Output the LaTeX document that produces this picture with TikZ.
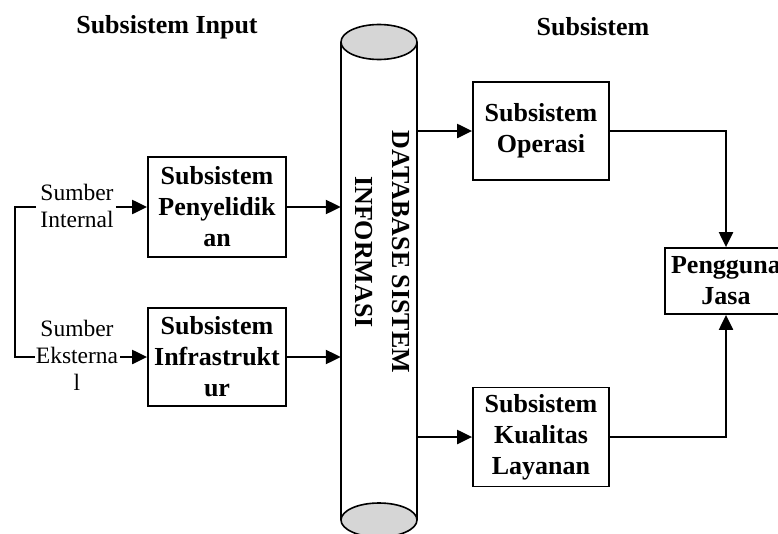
\documentclass[tikz,border=0pt]{standalone}
\usepackage{fontspec}
\setmainfont{Liberation Serif}
\usetikzlibrary{arrows.meta}
\tikzset{
  pic/.style={x=1pt,y=-1pt},
  box/.style={draw,line width=1.8pt,align=center,font=\fontsize{26}{31}\selectfont\bfseries,inner sep=0pt},
  src/.style={align=center,font=\fontsize{23.5}{27}\selectfont,inner sep=2pt},
  title/.style={font=\fontsize{26}{31}\selectfont\bfseries},
  link/.style={line width=2.2pt},
  arr/.style={line width=2.2pt,-{Triangle[length=15pt,width=14pt]}},
}
\begin{document}
\begin{tikzpicture}[pic]
\useasboundingbox (0,0) rectangle (778,533);
\begin{scope}
\clip (0,0) rectangle (778,533);

% titles
\node[title] (tin) at (167,27) {Subsistem Input};
\node[title] (tout) at (593,27) {Subsistem};

% database cylinder
\fill[white] (341,42) rectangle (417,520);
\draw[line width=1.6pt] (341,42) -- (341,520);
\draw[line width=1.6pt] (417,42) -- (417,520);
\draw[line width=1.6pt,fill=gray!32] (379,42) ellipse [x radius=38,y radius=17.5];
\draw[line width=1.6pt,fill=gray!32] (379,520) ellipse [x radius=38,y radius=17];
\node[minimum width=76pt,minimum height=478pt,inner sep=0pt] (db) at (379,281) {};
\node[rotate=-90,align=center,font=\fontsize{26}{37}\selectfont\bfseries] (dbt) at (382,252)
  {DATABASE SISTEM\\INFORMASI};

% input subsystems
\node[box,minimum width=138pt,minimum height=100pt] (pen) at (217,207) {Subsistem\\Penyelidik\\an};
\node[box,minimum width=138pt,minimum height=98pt] (inf) at (217,357) {Subsistem\\Infrastrukt\\ur};

% sources
\node[src] (si) at (77,206) {Sumber\\Internal};
\node[src] (se) at (77,355) {Sumber\\Eksterna\\l};
\coordinate (bi) at (36,207);
\coordinate (be) at (35,357);
\draw[link] (bi) -- ++(-21,0) |- (be);
\draw[arr] (si.east |- pen.west) -- (pen.west);
\draw[arr] (se.east |- inf.west) -- (inf.west);

\draw[arr] (pen.east) -- (pen.east -| db.west);
\draw[arr] (inf.east) -- (inf.east -| db.west);

% output subsystems
\node[box,minimum width=136pt,minimum height=98pt] (op) at (541,131) {Subsistem\\Operasi};
\node[box,minimum width=136pt,minimum height=99pt] (kl) at (541,437) {Subsistem\\Kualitas\\Layanan};
\node[box,minimum width=122pt,minimum height=66pt] (pj) at (726,281) {Pengguna\\Jasa};

\draw[arr] (op.west -| db.east) -- (op.west);
\draw[arr] (kl.west -| db.east) -- (kl.west);
\draw[arr] (op.east) -| (pj.north);
\draw[arr] (kl.east) -| (pj.south);
\end{scope}
\end{tikzpicture}
\end{document}
